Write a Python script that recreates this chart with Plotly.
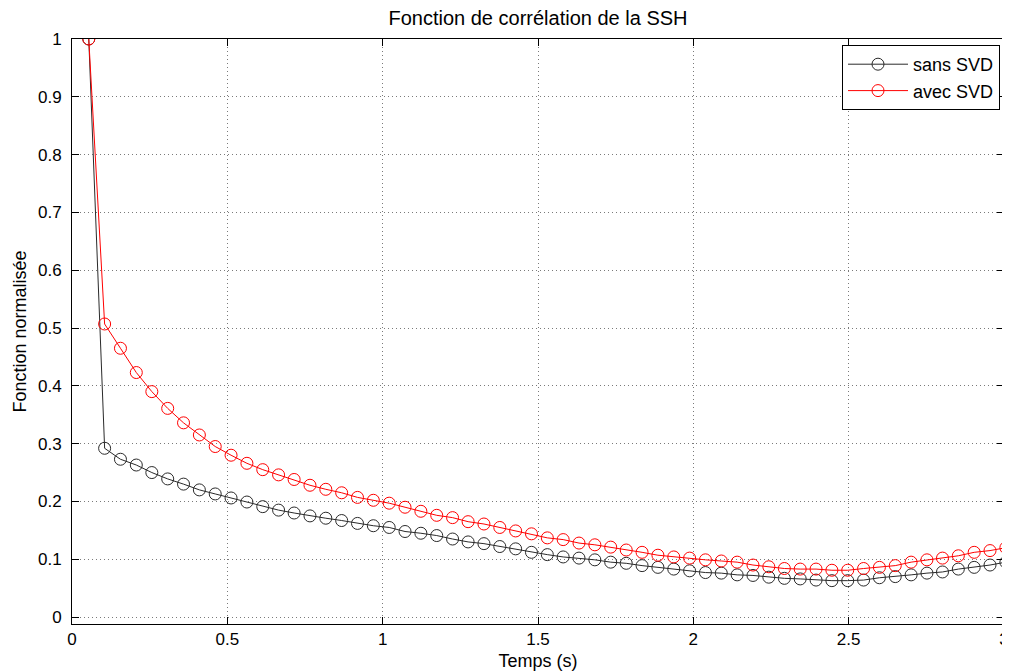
import plotly.graph_objects as go

# Time samples (s)
temps = [0.054, 0.105, 0.156, 0.207, 0.257, 0.308, 0.359, 0.410, 0.461, 0.512,
         0.563, 0.614, 0.665, 0.715, 0.766, 0.817, 0.868, 0.919, 0.970, 1.021,
         1.072, 1.123, 1.174, 1.225, 1.275, 1.326, 1.377, 1.428, 1.479, 1.530,
         1.581, 1.632, 1.683, 1.734, 1.784, 1.835, 1.886, 1.937, 1.988, 2.039,
         2.090, 2.141, 2.192, 2.243, 2.293, 2.344, 2.395, 2.446, 2.497, 2.548,
         2.599, 2.650, 2.701, 2.752, 2.802, 2.853, 2.904, 2.955, 3.006]

sans_svd = [1.000, 0.292, 0.273, 0.263, 0.250, 0.239, 0.230, 0.220, 0.213, 0.206,
            0.199, 0.191, 0.185, 0.180, 0.175, 0.171, 0.167, 0.162, 0.158, 0.155,
            0.148, 0.145, 0.141, 0.135, 0.130, 0.127, 0.122, 0.118, 0.112, 0.108,
            0.104, 0.102, 0.099, 0.095, 0.093, 0.089, 0.086, 0.083, 0.080, 0.077,
            0.076, 0.073, 0.072, 0.069, 0.067, 0.066, 0.064, 0.063, 0.063, 0.064,
            0.068, 0.070, 0.073, 0.076, 0.078, 0.083, 0.086, 0.090, 0.095]

avec_svd = [1.000, 0.507, 0.465, 0.423, 0.390, 0.361, 0.336, 0.315, 0.295, 0.280,
            0.266, 0.255, 0.246, 0.238, 0.228, 0.221, 0.215, 0.207, 0.202, 0.197,
            0.190, 0.183, 0.176, 0.172, 0.165, 0.161, 0.155, 0.149, 0.144, 0.137,
            0.134, 0.128, 0.125, 0.121, 0.116, 0.112, 0.107, 0.104, 0.102, 0.099,
            0.097, 0.095, 0.090, 0.087, 0.084, 0.083, 0.083, 0.081, 0.081, 0.084,
            0.086, 0.089, 0.095, 0.099, 0.102, 0.106, 0.112, 0.115, 0.120]

x_ticks = [0, 0.5, 1, 1.5, 2, 2.5, 3]
x_tick_labels = ["0", "0.5", "1", "1.5", "2", "2.5", "3"]
y_ticks = [0, 0.1, 0.2, 0.3, 0.4, 0.5, 0.6, 0.7, 0.8, 0.9, 1]
y_tick_labels = ["0", "0.1", "0.2", "0.3", "0.4", "0.5", "0.6", "0.7", "0.8", "0.9", "1"]

FONT = "Liberation Sans, Arial, Helvetica, sans-serif"

# The page body has an 8px margin, so the figure is sized to fill the rest
W, H = 1002, 663
L, T, R, B = 64, 31, 6, 47

fig = go.Figure()
fig.add_trace(go.Scatter(
    x=temps, y=sans_svd, name="sans SVD", mode="lines+markers",
    line=dict(color="#2a2a2a", width=1),
    marker=dict(symbol="circle-open", size=12, color="#2a2a2a", line=dict(width=1)),
))
fig.add_trace(go.Scatter(
    x=temps, y=avec_svd, name="avec SVD", mode="lines+markers",
    line=dict(color="#ff0000", width=1),
    marker=dict(symbol="circle-open", size=12, color="#ff0000", line=dict(width=1)),
))

axis_common = dict(
    showline=True, linecolor="#000000", linewidth=1, mirror="allticks",
    ticks="inside", ticklen=7, tickcolor="#000000", tickwidth=1,
    showgrid=True, gridcolor="#7a7a7a", griddash="1px,3px", gridwidth=1,
    zeroline=False, automargin=False, ticklabeloverflow="allow",
    tickfont=dict(family=FONT, size=17, color="#000000"),
)

plot_h = H - T - B
fig.update_layout(
    width=W, height=H,
    paper_bgcolor="#ffffff", plot_bgcolor="#ffffff",
    margin=dict(l=L, r=R, t=T, b=B, autoexpand=False),
    font=dict(family=FONT, color="#000000"),
    title=dict(text="Fonction de corrélation de la SSH", x=0.5, xref="paper",
               y=1 - 10 / H, yref="container", yanchor="middle", xanchor="center",
               font=dict(family=FONT, size=20, color="#000000")),
    xaxis=dict(range=[0, 3], tickvals=x_ticks, ticktext=x_tick_labels,
               title=dict(text="Temps (s)", standoff=7,
                          font=dict(family=FONT, size=18, color="#000000")),
               ticklabelstandoff=0, **axis_common),
    yaxis=dict(range=[-0.012, 1], tickvals=y_ticks, ticktext=y_tick_labels,
               title=dict(text="Fonction normalisée", standoff=6,
                          font=dict(family=FONT, size=18, color="#000000")),
               ticklabelstandoff=6, **axis_common),
    legend=dict(x=(992 - L) / (W - L - R), xanchor="right",
                y=(plot_h - 6) / plot_h, yanchor="top",
                bgcolor="#ffffff", bordercolor="#000000", borderwidth=1,
                font=dict(family=FONT, size=18, color="#000000"),
                tracegroupgap=0, itemwidth=60),
    showlegend=True,
)

fig.write_html("out.html")
